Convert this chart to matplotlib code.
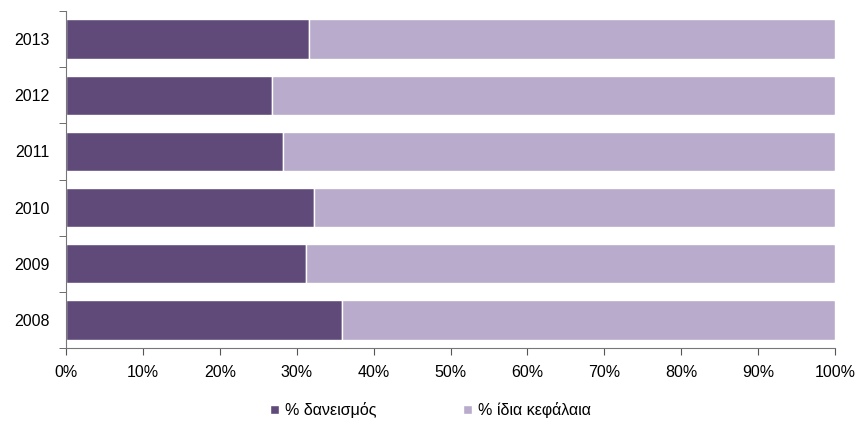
import numpy as np
import matplotlib.pyplot as plt
from matplotlib.ticker import FixedLocator, PercentFormatter

plt.rcParams['font.family'] = ['Liberation Sans', 'DejaVu Sans']

years = ['2008', '2009', '2010', '2011', '2012', '2013']
borrowing = [35.9, 31.2, 32.2, 28.2, 26.8, 31.6]
equity = [100 - b for b in borrowing]

dark = '#5f4a7a'
light = '#b9abcc'

fig = plt.figure(figsize=(8.58, 4.24), dpi=100)
ax = fig.add_axes([66/858, 1 - 348/424, (835 - 66)/858, (348 - 11)/424])

y = np.arange(len(years))
ax.barh(y, borrowing, height=0.7, color=dark, edgecolor='white', linewidth=1, label='% δανεισμός')
ax.barh(y, equity, left=borrowing, height=0.7, color=light, edgecolor='white', linewidth=1, label='% ίδια κεφάλαια')

ax.set_xlim(0, 100)
ax.set_ylim(-0.5, len(years) - 0.5)
ax.set_xticks(np.arange(0, 101, 10))
ax.xaxis.set_major_formatter(PercentFormatter(decimals=0))
ax.set_yticks(y)
ax.set_yticklabels(years)
ax.yaxis.set_minor_locator(FixedLocator(np.arange(-0.5, len(years), 1)))
ax.tick_params(axis='y', which='major', length=0, pad=12, labelsize=11.5)
ax.tick_params(axis='y', which='minor', length=5, color='#555555')
ax.tick_params(axis='x', length=5, color='#555555', labelsize=11.5, pad=7)

for s in ['top', 'right']:
    ax.spines[s].set_visible(False)
for s in ['left', 'bottom']:
    ax.spines[s].set_color('#777777')

fig.legend(loc='lower center', bbox_to_anchor=(0.502, -0.02), ncol=2, frameon=False,
           fontsize=11.5, handlelength=0.55, handleheight=0.55, handletextpad=0.4,
           columnspacing=5.4)

plt.savefig('out.png', dpi=100)
